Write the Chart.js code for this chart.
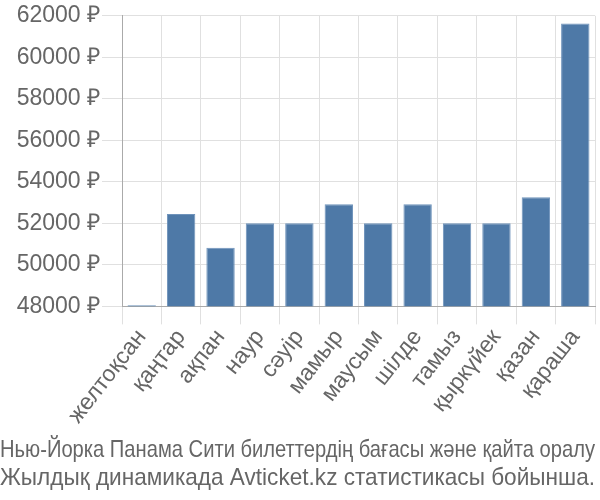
<!DOCTYPE html>
<html lang="kk">
<head>
  <meta charset="UTF-8" />
  <title>Avticket.kz</title>
  <script src="https://cdn.jsdelivr.net/npm/chart.js"></script>
  <style>
    html, body { margin: 0; padding: 0; background: #fff; }
    .wrap { width: 600px; height: 500px; }
  </style>
</head>
<body>
  <div class="wrap"><canvas id="priceChart"></canvas></div>
  <script>
    const months = ['желтоқсан', 'қаңтар', 'ақпан', 'наур', 'сәуір', 'мамыр',
                    'маусым', 'шілде', 'тамыз', 'қыркүйек', 'қазан', 'қараша'];
    const prices = [48050, 52450, 50820, 52000, 52000, 52920,
                    52000, 52920, 52000, 52000, 53260, 61630];
    const titleLines = ['Нью-Йорка Панама Сити билеттердің бағасы және қайта оралу',
                        'Жылдық динамикада Avticket.kz статистикасы бойынша.'];

    const font = 'Liberation Sans';

    new Chart(document.getElementById('priceChart'), {
      type: 'bar',
      data: {
        labels: months,
        datasets: [{
          data: prices,
          backgroundColor: '#4e79a7',
          borderColor: '#6f93bb',
          borderWidth: 1,
          barPercentage: 0.72,
          categoryPercentage: 1
        }]
      },
      options: {
        responsive: true,
        maintainAspectRatio: false,
        animation: false,
        layout: { padding: { left: 0, right: 5, top: 4, bottom: 0 } },
        plugins: {
          legend: { display: false },
          tooltip: { enabled: false },
          title: {
            display: true,
            position: 'bottom',
            text: titleLines,
            color: '#666',
            font: { family: font, size: 24, weight: 'normal', lineHeight: 1.15 },
            padding: { top: 8, bottom: 8 }
          }
        },
        scales: {
          x: {
            grid: { color: '#e0e0e0', offset: true, tickLength: 18 },
            border: { color: '#aaa' },
            ticks: {
              color: '#666',
              font: { family: font, size: 23 },
              minRotation: 52,
              maxRotation: 52,
              padding: 0
            }
          },
          y: {
            min: 48000,
            max: 62000,
            afterFit: s => { s.width = 122; },
            grid: { color: '#e0e0e0', tickLength: 20 },
            border: { color: '#aaa' },
            ticks: {
              stepSize: 2000,
              color: '#666',
              font: { family: font, size: 23 },
              padding: 2,
              callback: v => v + ' ₽'
            }
          }
        }
      }
    });
  </script>
</body>
</html>
